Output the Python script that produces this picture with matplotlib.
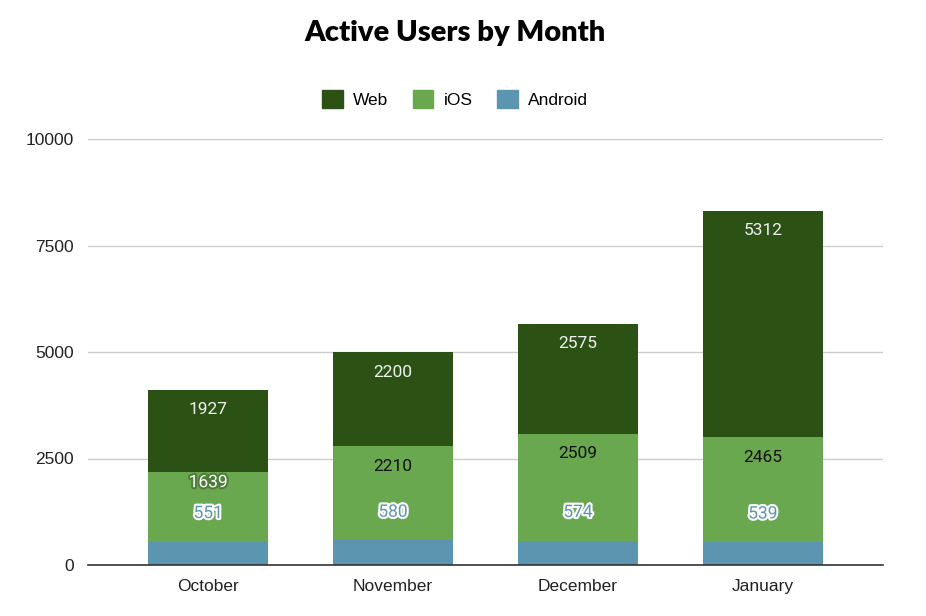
import matplotlib
matplotlib.use("Agg")
import matplotlib.pyplot as plt
import matplotlib.patheffects as pe
from matplotlib.patches import Patch
import numpy as np

months = ["October", "November", "December", "January"]
android = [551, 580, 574, 539]
ios = [1639, 2210, 2509, 2465]
web = [1927, 2200, 2575, 5312]
yticks = [0, 2500, 5000, 7500, 10000]

c_web = "#2b5114"
c_ios = "#6aa84f"
c_android = "#5b95b0"

plt.rcParams["font.family"] = ["Liberation Sans", "DejaVu Sans"]

fig = plt.figure(figsize=(9.26, 6.16), dpi=100)
ax = fig.add_axes([88 / 926, 51 / 616, 795 / 926, 426 / 616])

x = np.arange(len(months))
w = 0.65
a = np.array(android)
i = np.array(ios)
wb = np.array(web)
ax.bar(x, a, w, color=c_android, zorder=2)
ax.bar(x, i, w, bottom=a, color=c_ios, zorder=2)
ax.bar(x, wb, w, bottom=a + i, color=c_web, zorder=2)

ax.set_ylim(0, 10000)
ax.set_xlim(-0.65, 3.65)
ax.set_yticks(yticks)
ax.set_yticklabels([str(t) for t in yticks])
ax.set_xticks(x)
ax.set_xticklabels(months)
ax.tick_params(axis="both", length=0, labelsize=12.5, colors="#222222")
ax.tick_params(axis="y", pad=10)
ax.tick_params(axis="x", pad=10)
ax.grid(axis="y", color="#cccccc", linewidth=1, zorder=0)
for s in ["top", "right", "left"]:
    ax.spines[s].set_visible(False)
ax.spines["bottom"].set_color("#333333")
ax.spines["bottom"].set_linewidth(1.2)
ax.spines["bottom"].set_zorder(3)

lab = dict(ha="center", va="center", fontsize=12.5, family=["Roboto", "DejaVu Sans"], zorder=4,
           textcoords="offset pixels")
for k in range(len(months)):
    top = a[k] + i[k] + wb[k]
    ax.annotate(str(web[k]), (x[k], top), xytext=(0, -20), color="#f0f0f0", **lab)
    itop = a[k] + i[k]
    if k == 0:
        ax.annotate(str(ios[k]), (x[k], itop), xytext=(0, -11), color="white",
                    path_effects=[pe.withStroke(linewidth=3, foreground="#4e7d3a")], **lab)
    else:
        ax.annotate(str(ios[k]), (x[k], itop), xytext=(0, -20), color="#111111", **lab)
    ax.annotate(str(android[k]), (x[k], a[k]), xytext=(0, 28), color=c_android,
                path_effects=[pe.withStroke(linewidth=3, foreground="white")], **lab)

fig.text(455 / 926, 1 - 33 / 616, "Active Users by Month", ha="center", va="center",
         fontsize=21, fontweight="heavy", family=["Lato", "DejaVu Sans"], color="black")

handles = [Patch(color=c_web, label="Web"), Patch(color=c_ios, label="iOS"),
           Patch(color=c_android, label="Android")]
fig.legend(handles=handles, loc="center", bbox_to_anchor=(455 / 926, 1 - 99 / 616),
           ncol=3, frameon=False, fontsize=12.5, handlelength=1.2, handleheight=1.2,
           handletextpad=0.6, columnspacing=1.4)

fig.savefig("out.png", dpi=100)
